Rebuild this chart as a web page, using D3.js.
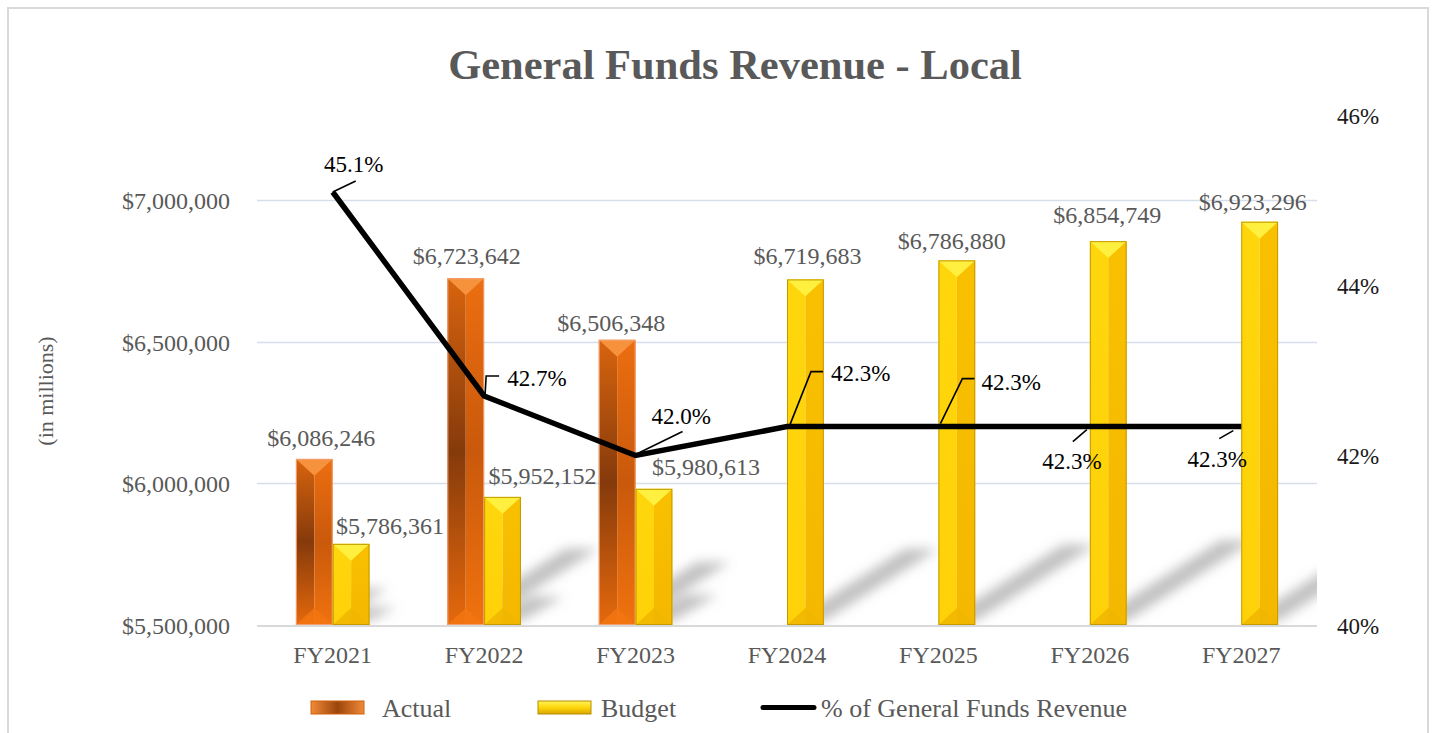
<!DOCTYPE html>
<html><head><meta charset="utf-8">
<script src="https://cdn.jsdelivr.net/npm/d3@7"></script>
<style>html,body{margin:0;padding:0;background:#fff;} svg{display:block;} text{font-family:'Liberation Serif','Times New Roman',serif;}</style>
</head><body><svg id="chart" width="1434" height="733"></svg>
<script>
// ---------- data ----------
const years = ["FY2021", "FY2022", "FY2023", "FY2024", "FY2025", "FY2026", "FY2027"];
const actualValues = [6086246, 6723642, 6506348, null, null, null, null];
const budgetValues = [5786361, 5952152, 5980613, 6719683, 6786880, 6854749, 6923296];
const pctValues = [45.1, 42.7, 42.0, 42.34, 42.34, 42.34, 42.34];
const leftTicks = [5500000, 6000000, 6500000, 7000000];
const rightTicks = [40, 42, 44, 46];
const seriesNames = ["Actual", "Budget", "% of General Funds Revenue"];
const titleText = "General Funds Revenue - Local";
const yAxisTitle = "(in millions)";

// ---------- label placement (nudges) ----------
const actualLabelNudge = [[7, -21], [1, -23], [-6, -17]];
const budgetLabelNudge = [[39, -18], [40, -21], [52, -22], [2, -24], [-5, -20], [-1, -27], [-7, -20]];
const pctLabelLayout = [
  {leader: [[0, 0], [23, -11]], tx: 21, ty: -28, anchor: "middle"},
  {leader: [[1, -2], [2, -20], [15, -20]], tx: 23, ty: -18, anchor: "start"},
  {leader: [[4, -3], [47, -24]], tx: 16, ty: -40, anchor: "start"},
  {leader: [[3, -2], [24, -55], [36, -55]], tx: 44, ty: -54, anchor: "start"},
  {leader: [[2, -3], [24, -48], [36, -48]], tx: 43, ty: -45, anchor: "start"},
  {leader: [[-3, 3], [-17, 15]], tx: -18, ty: 34, anchor: "middle"},
  {leader: [[-8, 4], [-22, 12]], tx: -24, ty: 32, anchor: "middle"}
];

const FONT = "'Liberation Serif','Times New Roman',serif";
const svg = d3.select("#chart");
const defs = svg.append("defs");

function lin(id, stops, horiz) {
  const g = defs.append("linearGradient").attr("id", id)
    .attr("x1", 0).attr("y1", 0).attr("x2", horiz ? 1 : 0).attr("y2", horiz ? 0 : 1);
  stops.forEach(s => g.append("stop").attr("offset", s[0]).attr("stop-color", s[1]));
}
lin("actL", [[0, "#d8640e"], [0.5, "#853a0b"], [1, "#e6690c"]]);
lin("actR", [[0, "#ec6e10"], [0.5, "#c9590c"], [1, "#f0720e"]]);
lin("budL", [[0, "#ffd60c"], [1, "#ffd108"]]);
lin("budR", [[0, "#f9c000"], [1, "#f4b800"]]);
lin("legAct", [[0, "#f08a38"], [0.5, "#9c450c"], [1, "#f08a38"]], true);
lin("legBud", [[0, "#fff55a"], [0.5, "#ffd60a"], [1, "#d9a400"]]);
defs.append("filter").attr("id", "shblur").attr("x", "-50%").attr("y", "-50%")
  .attr("width", "200%").attr("height", "200%")
  .append("feGaussianBlur").attr("stdDeviation", 6);
defs.append("clipPath").attr("id", "plotclip").append("rect")
  .attr("x", 257).attr("y", 100).attr("width", 1060).attr("height", 526);

// background + frame
svg.append("rect").attr("width", 1434).attr("height", 733).attr("fill", "#fff");
svg.append("rect").attr("x", 8).attr("y", 8).attr("width", 1420).attr("height", 760)
  .attr("fill", "#fff").attr("stroke", "#d9d9d9").attr("stroke-width", 2);

// scales
const x = d3.scaleBand().domain(years).range([257, 1317]).padding(0);
const yL = d3.scaleLinear().domain([5500000, 7000000]).range([625, 200]);
const yR = d3.scaleLinear().domain([40, 46]).range([625.5, 115.5]);
const bw = x.bandwidth() * 0.243;
const base = yL(5500000);

// title
svg.append("text").attr("x", 735).attr("y", 79).attr("text-anchor", "middle")
  .attr("font-family", FONT).attr("font-weight", "bold").attr("font-size", 42.5)
  .attr("fill", "#595959").text(titleText);

// gridlines
svg.append("g").selectAll("line").data(leftTicks.slice(1)).join("line")
  .attr("x1", 257).attr("x2", 1317)
  .attr("y1", d => Math.round(yL(d)) + 0.5).attr("y2", d => Math.round(yL(d)) + 0.5)
  .attr("stroke", "#d5dfec").attr("stroke-width", 1.5);

// axes
const fmtMoney = d => "$" + d3.format(",")(d);
const gL = svg.append("g").attr("transform", "translate(257,0)")
  .call(d3.axisLeft(yL).tickValues(leftTicks).tickFormat(fmtMoney).tickSize(0).tickPadding(27));
gL.select(".domain").remove();
gL.attr("font-family", FONT);
gL.selectAll("text").attr("font-family", FONT).attr("font-size", 24).attr("fill", "#595959").attr("dy", "0.35em");

const gR = svg.append("g").attr("transform", "translate(1317,0)")
  .call(d3.axisRight(yR).tickValues(rightTicks).tickFormat(d => d + "%").tickSize(0).tickPadding(20));
gR.select(".domain").remove();
gR.attr("font-family", FONT);
gR.selectAll("text").attr("font-family", FONT).attr("font-size", 23).attr("fill", "#1a1a1a").attr("dy", "0.35em");

const gB = svg.append("g").attr("transform", `translate(0,${base})`)
  .call(d3.axisBottom(x).tickSize(0));
gB.select(".domain").remove();
gB.attr("font-family", FONT);
gB.selectAll("text").attr("font-family", FONT).attr("font-size", 24).attr("fill", "#595959")
  .attr("y", 30).attr("dy", "0.35em");

svg.append("text").attr("transform", "translate(45,391) rotate(-90)").attr("text-anchor", "middle")
  .attr("dy", "0.35em").attr("font-family", FONT).attr("font-size", 22).attr("fill", "#595959").text(yAxisTitle);

// bar records
const bars = [];
years.forEach((yr, i) => {
  const c = x(yr) + x.bandwidth() / 2;
  if (actualValues[i] != null) bars.push({type: "act", i, x0: c - bw, v: actualValues[i]});
  if (budgetValues[i] != null) bars.push({type: "bud", i, x0: c, v: budgetValues[i]});
});

// shadows
const shadowG = svg.append("g").attr("clip-path", "url(#plotclip)")
  .append("g").attr("filter", "url(#shblur)");
bars.forEach(b => {
  const h = base - yL(b.v);
  const dx = h * 0.33, dy = h * 0.22;
  shadowG.append("path")
    .attr("d", `M${b.x0 + 4},${base - 4}L${b.x0 + bw},${base - 4}L${b.x0 + bw + dx},${base - dy}L${b.x0 + 4 + dx},${base - dy}Z`)
    .attr("fill", "#8c8c8c").attr("opacity", 0.55);
});

// baseline
svg.append("line").attr("x1", 257).attr("x2", 1317).attr("y1", base + 1).attr("y2", base + 1)
  .attr("stroke", "#d9d9d9").attr("stroke-width", 2);

// bars
const pal = {
  act: {left: "url(#actL)", right: "url(#actR)", top: "#f6923c", bottom: "#f27512", edge: "#f2a070"},
  bud: {left: "url(#budL)", right: "url(#budR)", top: "#fff040", bottom: "#f0b600", edge: "#c29a00"}
};
const barG = svg.append("g");
bars.forEach(b => {
  const p = pal[b.type];
  const top = yL(b.v), x0 = b.x0, xc = x0 + bw / 2, d = bw * 0.46;
  const g = barG.append("g");
  g.append("rect").attr("x", x0).attr("y", top).attr("width", bw / 2).attr("height", base - top).attr("fill", p.left);
  g.append("rect").attr("x", xc).attr("y", top).attr("width", bw / 2).attr("height", base - top).attr("fill", p.right);
  g.append("path").attr("d", `M${x0},${top}L${x0 + bw},${top}L${xc},${top + d}Z`).attr("fill", p.top);
  g.append("path").attr("d", `M${x0},${base}L${x0 + bw},${base}L${xc},${base - d}Z`).attr("fill", p.bottom).attr("opacity", 0.85);
  g.append("rect").attr("x", x0 + 0.5).attr("y", top + 0.5).attr("width", bw - 1).attr("height", base - top - 1)
    .attr("fill", "none").attr("stroke", p.edge).attr("stroke-width", 1);
});

// bar labels
const lblG = svg.append("g");
bars.forEach(b => {
  const n = b.type === "act" ? actualLabelNudge[b.i] : budgetLabelNudge[b.i];
  lblG.append("text").attr("x", b.x0 + bw / 2 + n[0]).attr("y", yL(b.v) + n[1]).attr("dy", "0.35em")
    .attr("font-family", FONT).attr("font-size", 24).attr("fill", "#595959").attr("text-anchor", "middle")
    .text(fmtMoney(b.v));
});

// line
const pts = years.map((yr, i) => [x(yr) + x.bandwidth() / 2, yR(pctValues[i])]);
svg.append("path").attr("d", d3.line()(pts)).attr("fill", "none").attr("stroke", "#000")
  .attr("stroke-width", 5.5).attr("stroke-linejoin", "miter");

// line labels with leaders
const pG = svg.append("g");
pts.forEach((pt, i) => {
  const L = pctLabelLayout[i];
  pG.append("path").attr("d", d3.line()(L.leader.map(q => [pt[0] + q[0], pt[1] + q[1]])))
    .attr("fill", "none").attr("stroke", "#000").attr("stroke-width", 1.6);
  pG.append("text").attr("x", pt[0] + L.tx).attr("y", pt[1] + L.ty).attr("dy", "0.35em")
    .attr("font-family", FONT).attr("font-size", 23).attr("fill", "#000")
    .attr("text-anchor", L.anchor).text(pctValues[i].toFixed(1) + "%");
});

// legend
const lg = svg.append("g");
const legText = (xx, t) => lg.append("text").attr("x", xx).attr("y", 708).attr("dy", "0.35em")
  .attr("font-family", FONT).attr("font-size", 26).attr("fill", "#595959").text(t);
lg.append("rect").attr("x", 311).attr("y", 701).attr("width", 53).attr("height", 13)
  .attr("fill", "url(#legAct)").attr("stroke", "#d2600c").attr("stroke-width", 1);
legText(382, seriesNames[0]);
lg.append("rect").attr("x", 538).attr("y", 701).attr("width", 53).attr("height", 13)
  .attr("fill", "url(#legBud)").attr("stroke", "#b88e00").attr("stroke-width", 1);
legText(601, seriesNames[1]);
lg.append("line").attr("x1", 763).attr("x2", 814).attr("y1", 707.5).attr("y2", 707.5)
  .attr("stroke", "#000").attr("stroke-width", 5).attr("stroke-linecap", "round");
legText(821, seriesNames[2]);
</script>
</body></html>
